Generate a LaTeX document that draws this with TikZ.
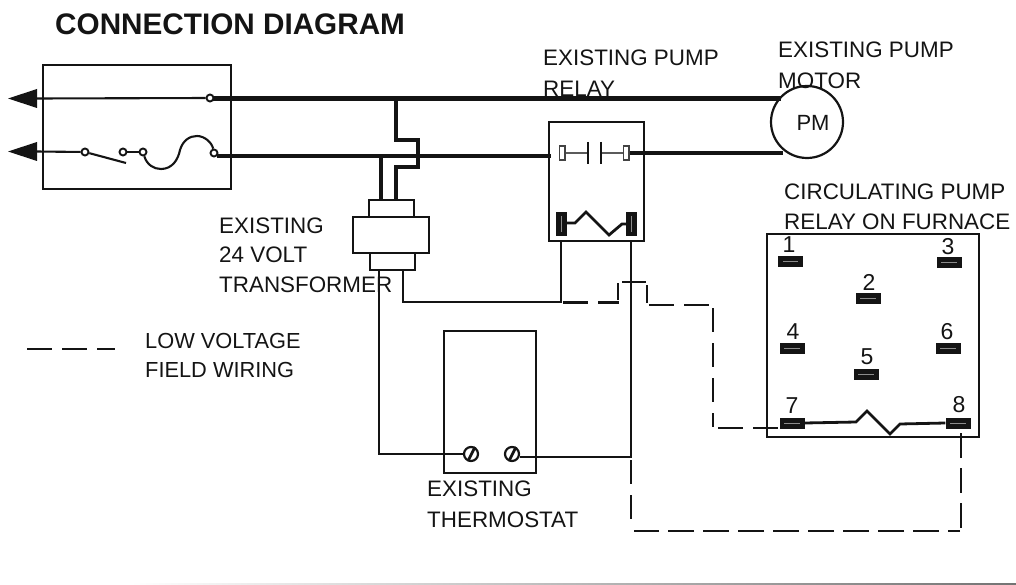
\documentclass[tikz,border=0pt]{standalone}
\usepackage{fontspec}
\setmainfont{Liberation Sans}
\definecolor{ink}{gray}{0.08}
\tikzset{
 thinw/.style={line width=2.1pt,ink},
 heavy/.style={line width=4.7pt,ink},
 mid/.style={line width=2.8pt,ink},
 frame/.style={draw=ink,line width=2.5pt},
 fld/.style={line width=2.6pt,ink},
 lab/.style={anchor=west,inner sep=0pt,font=\fontsize{22.4}{22.4}\selectfont,text=ink},
 labs/.style={anchor=west,inner sep=0pt,font=\fontsize{21.8}{21.8}\selectfont,text=ink},
 num/.style={inner sep=0pt,font=\fontsize{23}{23}\selectfont,text=ink},
 term/.style={fill=ink,draw=none,minimum width=25pt,minimum height=11pt,inner sep=0pt},
 dot/.style={circle,draw=ink,fill=white,line width=1.9pt,minimum size=7pt,inner sep=0pt},
 box/.style={frame,fill=white,inner sep=0pt},
 conta/.style={draw=ink!80,fill=white,line width=1.5pt,minimum width=5.5pt,minimum height=14pt,inner sep=0pt},
 coilt/.style={fill=ink,minimum width=11pt,minimum height=24pt,inner sep=0pt},
 screw/.style={circle,draw=ink,line width=2.2pt,minimum size=14pt,inner sep=0pt}
}
\begin{document}
\begin{tikzpicture}[x=1pt,y=-1pt]
\useasboundingbox (0,0) rectangle (1016,585);
% faint bottom rule
\shade[left color=white,right color=black!55] (130,583.4) rectangle (1016,585);
% title
\node[lab,font=\fontsize{29.7}{29.7}\selectfont\bfseries] (title) at (55,24) {CONNECTION DIAGRAM};
% boxes
\node[box,minimum width=188pt,minimum height=124pt,fill=none] (panel) at (137,127) {};
\node[box,minimum width=95pt,minimum height=119pt] (relay) at (596.5,181.5) {};
\node[box,minimum width=212pt,minimum height=203pt,fill=none] (furn) at (873,335.5) {};
\node[box,minimum width=92pt,minimum height=142pt,fill=none] (stat) at (490,402) {};
\node[circle,draw=ink,line width=2.2pt,minimum size=72pt,inner sep=0pt] (pm) at (807,122) {};
\node[inner sep=0pt,font=\fontsize{22}{22}\selectfont,text=ink] (pmt) at (813,123) {PM};
% coordinates for wires
\node[dot] (n1) at (210,98) {};
\node[dot] (s1) at (85,152) {};
\node[dot] (s2) at (123,152) {};
\node[dot] (s3) at (143,152) {};
\node[dot] (s4) at (214,153) {};
\coordinate (blade) at (126,163);
\coordinate (pmA) at (781,98.5);
\coordinate (pmB) at (783,153);
% panel thin wires and arrows
\draw[thinw] (n1) -- (36,98.5);
\draw[thinw] (s1) -- (36,151.5);
\fill[ink] (8,98.5) -- (37,89) -- (37,108) -- cycle;
\fill[ink] (8,151.5) -- (37,142) -- (37,161) -- cycle;
\draw[thinw] (s1) -- (blade);
\draw[thinw] (s2) -- (s3);
\draw[thinw] (s3) .. controls (147,165) and (154,169) .. (161,169) .. controls (172,169) and (178,160) .. (180,150) .. controls (183,140) and (190,136) .. (197,136) .. controls (205,136) and (212,143) .. (s4);
% heavy wires
\draw[heavy] (213,98.5) -- (pmA);
\draw[line width=4.2pt,ink] (217,156) -- (551,156);
\draw[heavy] (629,153) -- (pmB);
% transformer
\node[box,minimum width=45pt,minimum height=17pt] (tt) at (391.5,208.5) {};
\node[box,minimum width=45pt,minimum height=17pt] (tb) at (392.5,261.5) {};
\node[box,minimum width=76pt,minimum height=36pt] (tm) at (391,235) {};
\draw[line width=4.7pt,ink] (396,98.5) -- (396,140) -- (418,140) -- (418,167) -- (396,167) -- (396,200);
\draw[line width=4.7pt,ink] (381,156) -- (381,200);
% thin control wiring
\node[screw] (sc1) at (471,454) {};
\node[screw] (sc2) at (512,454) {};
\draw[mid] (468,461) -- (475,447);
\draw[mid] (509,461) -- (516,447);
\draw[mid] (379,270) |- (sc1.west);
\draw[mid] (403,270) -- (403,302) -- (561,302) -- (561,241);
\draw[mid] (631,241) -- (631,457) -- (520,457);
% relay internals
\node[conta] (c1) at (562,153) {};
\node[conta] (c2) at (626,153) {};
\coordinate (p1a) at (588,142); \coordinate (p1b) at (588,164);
\coordinate (p2a) at (601,142); \coordinate (p2b) at (601,164);
\draw[line width=1.2pt,ink!70] (c1) -- (588,153);
\draw[line width=1.2pt,ink!70] (c2) -- (601,153);
\draw[line width=1.8pt,ink] (p1a) -- (p1b);
\draw[line width=1.8pt,ink] (p2a) -- (p2b);
\node[coilt] (k1) at (561.5,224) {};
\node[coilt] (k2) at (631.5,224) {};
\draw[mid] (567,223) -- (575,223) -- (586,212) -- (609,235) -- (622,224) -- (626,224);
\draw[black!45,line width=0.6pt] (561.5,216) -- (561.5,232) (631.5,216) -- (631.5,232);
% dashed field wiring
\draw[fld,dash pattern=on 25pt off 10pt] (563,302.5) -- (619,302.5);
\draw[fld] (618,300) -- (618,283);
\draw[thinw] (622,282) -- (646,282);
\draw[fld] (647,285) -- (647,303);
\draw[fld,dash pattern=on 25pt off 10pt] (649,305) -- (710,305);
\draw[fld,dash pattern=on 24pt off 11pt] (713,308) -- (713,427);
\draw[fld,dash pattern=on 25pt off 10pt] (718,428) -- (778,428);
\draw[fld,dash pattern=on 25pt off 10pt] (961,433) -- (961,528);
\draw[fld,dash pattern=on 26pt off 9pt,dash phase=14pt] (960,531) -- (634,531);
\draw[fld,dash pattern=on 24pt off 11pt] (631,460) -- (631,519);
\draw[fld,dash pattern=on 25pt off 10pt] (27,349) -- (115,349);
% furnace terminals
\node[term] (t1) at (790.5,261.5) {};
\node[term] (t2) at (868,298) {};
\node[term] (t3) at (949,262) {};
\node[term] (t4) at (792,348) {};
\node[term] (t5) at (866,374) {};
\node[term] (t6) at (948,348) {};
\node[term] (t7) at (792,423) {};
\node[term] (t8) at (958,423) {};
\draw[mid] (t7.east) -- (856,422) -- (867,411) -- (890,434) -- (900,424) -- (t8.west);
\draw[black!45,line width=0.6pt] (783,261.5) -- (798,261.5) (860,298) -- (876,298) (941,262) -- (957,262) (784,348) -- (800,348) (858,374) -- (874,374) (940,348) -- (956,348) (784,423) -- (800,423) (950,423) -- (966,423);
\node[num] (l1) at (789,245) {1};
\node[num] (l2) at (869,282) {2};
\node[num] (l3) at (948,247) {3};
\node[num] (l4) at (793,332) {4};
\node[num] (l5) at (867,357) {5};
\node[num] (l6) at (947,332) {6};
\node[num] (l7) at (792,406) {7};
\node[num] (l8) at (959,405) {8};
% labels
\node[lab] (e1) at (543,58) {EXISTING PUMP};
\node[lab] (e2) at (543,89) {RELAY};
\node[lab] (e3) at (778,50) {EXISTING PUMP};
\node[lab] (e4) at (778,81) {MOTOR};
\node[lab] (e5) at (784,192) {CIRCULATING PUMP};
\node[lab] (e6) at (784,222) {RELAY ON FURNACE};
\node[lab] (e7) at (219,226) {EXISTING};
\node[lab] (e8) at (219,255) {24 VOLT};
\node[lab] (e9) at (219,285) {TRANSFORMER};
\node[labs] (e10) at (145,341) {LOW VOLTAGE};
\node[labs] (e11) at (145,370) {FIELD WIRING};
\node[lab] (e12) at (427,489) {EXISTING};
\node[lab] (e13) at (427,520) {THERMOSTAT};
\end{tikzpicture}
\end{document}
